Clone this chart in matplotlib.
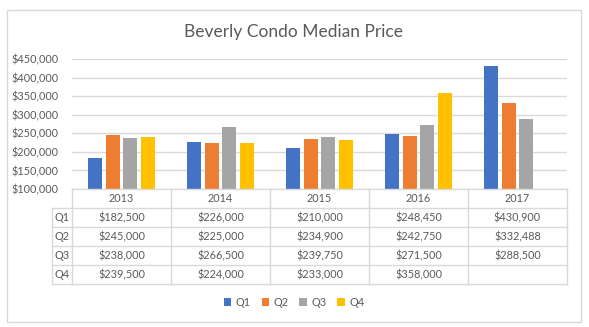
import numpy as np
import matplotlib.pyplot as plt
from matplotlib.patches import Rectangle, Patch
from matplotlib.ticker import FuncFormatter

plt.rcParams['font.family'] = ['Lato', 'DejaVu Sans']

years = ['2013', '2014', '2015', '2016', '2017']
quarters = ['Q1', 'Q2', 'Q3', 'Q4']
q1 = [182500, 226000, 210000, 248450, 430900]
q2 = [245000, 225000, 234900, 242750, 332488]
q3 = [238000, 266500, 239750, 271500, 288500]
q4 = [239500, 224000, 233000, 358000, np.nan]
series = [q1, q2, q3, q4]
colors = ['#4472C4', '#ED7D31', '#A5A5A5', '#FFC000']

text_c = '#595959'
line_c = '#D9D9D9'

W, H = 589, 327
fig = plt.figure(figsize=(W / 100, H / 100), dpi=100)


def px_axes(x0, y0, x1, y1):
    # pixel box (top-left origin) -> figure axes
    return fig.add_axes([x0 / W, 1 - y1 / H, (x1 - x0) / W, (y1 - y0) / H])


# outer chart border
fig.patches.append(Rectangle((7 / W, 1 - 322 / H), 574 / W, 312 / H,
                             transform=fig.transFigure, fill=False,
                             edgecolor=line_c, linewidth=1))

fig.text(294 / W, 1 - 32 / H, 'Beverly Condo Median Price', ha='center', va='center',
         fontsize=12.5, color=text_c)

# bars
ax = px_axes(72, 59, 567, 189)
x = np.arange(len(years))
step, width = 0.1818, 0.1414
for i, (vals, c) in enumerate(zip(series, colors)):
    ax.bar(x + (i - 1.5) * step, vals, width=width, color=c, zorder=3)
ax.set_xlim(-0.5, len(years) - 0.5)
ax.set_ylim(100000, 450000)
ax.set_yticks(np.arange(100000, 450001, 50000))
ax.yaxis.set_major_formatter(FuncFormatter(lambda v, p: f'${v:,.0f}'))
ax.tick_params(axis='y', length=0, pad=10, labelsize=7.8, labelcolor=text_c)
ax.set_xticks([])
ax.grid(axis='y', color=line_c, linewidth=1, zorder=0)
for s in ax.spines.values():
    s.set_visible(False)

# data table under the bars
tx = px_axes(52, 189, 567, 284)
xmin = -0.5 - 20 / 99
tx.set_xlim(xmin, len(years) - 0.5)
tx.set_ylim(5, 0)
tx.axis('off')
kw = dict(color=line_c, linewidth=1, clip_on=False)
tx.plot([-0.5, len(years) - 0.5], [0, 0], **kw)
for r in range(1, 6):
    tx.plot([xmin, len(years) - 0.5], [r, r], **kw)
for c in range(len(years) + 1):
    tx.plot([c - 0.5, c - 0.5], [0, 5], **kw)
tx.plot([xmin, xmin], [1, 5], **kw)
for j, yr in enumerate(years):
    tx.text(j, 0.5, yr, ha='center', va='center', fontsize=7.8, color=text_c)
for i, (q, vals) in enumerate(zip(quarters, series)):
    tx.text((xmin - 0.5) / 2, i + 1.5, q, ha='center', va='center', fontsize=7.8, color=text_c)
    for j, v in enumerate(vals):
        if not np.isnan(v):
            tx.text(j, i + 1.5, f'${v:,.0f}', ha='center', va='center',
                    fontsize=7.8, color=text_c)

handles = [Patch(facecolor=c) for c in colors]
fig.legend(handles, quarters, loc='center', bbox_to_anchor=(294 / W, 1 - 302 / H),
           ncol=4, frameon=False, fontsize=7.8, labelcolor=text_c,
           handlelength=0.7, handleheight=0.7, handletextpad=0.4, columnspacing=1.0)

fig.savefig('out.png', dpi=100)
